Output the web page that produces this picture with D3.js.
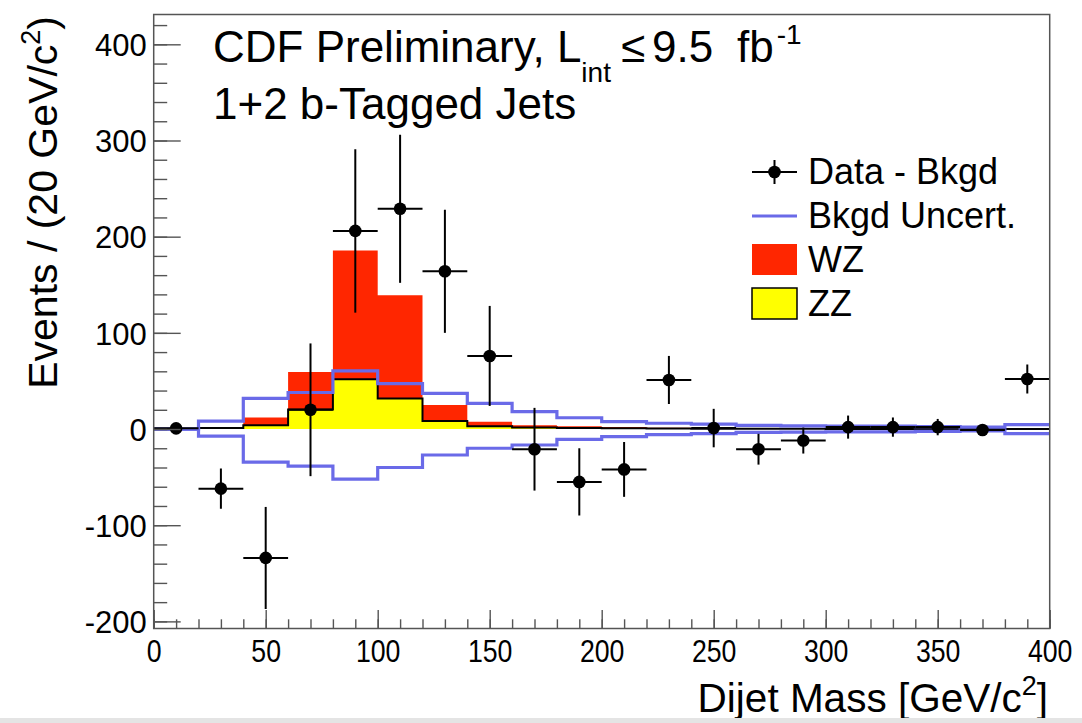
<!DOCTYPE html>
<html>
<head>
<meta charset="utf-8">
<script src="https://cdn.jsdelivr.net/npm/d3@7"></script>
<style>
  html, body { margin: 0; padding: 0; background: #fff; }
  svg { display: block; font-family: "Liberation Sans", Arial, Helvetica, sans-serif; }
</style>
</head>
<body>
<script>
// ---------- data ----------
const binLow     = [0, 20, 40, 60, 80, 100, 120, 140, 160, 180, 200, 220, 240, 260, 280, 300, 320, 340, 360, 380];
const binHigh    = [20, 40, 60, 80, 100, 120, 140, 160, 180, 200, 220, 240, 260, 280, 300, 320, 340, 360, 380, 400];
const binCenters = [10, 30, 50, 70, 90, 110, 130, 150, 170, 190, 210, 230, 250, 270, 290, 310, 330, 350, 370, 390];

const dataMinusBkgd = [0.7, -62, -134, 20, 206, 229, 164, 76, -21, -55, -42, 51, 1, -21, -12, 2, 2, 2, -1, 52];
const dataErrors    = [3, 21, 53, 69, 85, 77, 64, 52, 43, 35, 28.5, 25, 20, 16, 13.5, 12, 10, 8.5, 4, 15];

const zzValues = [0, 1, 4, 20.4, 51.8, 31.8, 8.3, 3, 1.5, 1, 0.7, 0.5, 0.3, 0.2, 0.2, 0.1, 0.1, 0.1, 0.05, 0.05];
const wzValues = [0, 0.7, 7.9, 39, 133.7, 107.2, 16.6, 4.6, 2.5, 2, 1.3, 0.8, 0.5, 0.3, 0.2, 0.2, 0.1, 0.1, 0.1, 0.05];

const bkgdUncUp   = [0, 8.3, 31.8, 38, 60.4, 47.3, 37, 26.6, 18, 11.7, 7.6, 6, 5, 3.8, 3.3, 3, 3, 2.5, 2, 4.5];
const bkgdUncDown = [0, -7.3, -34.5, -38.5, -52, -40, -27, -20, -16.6, -10.7, -8, -5.8, -4.8, -3.5, -3.3, -3, -3, -2.5, -2, -4.8];

const xMajorTicks = [0, 50, 100, 150, 200, 250, 300, 350, 400];
const xMinorTicks = [0,10,20,30,40,50,60,70,80,90,100,110,120,130,140,150,160,170,180,190,200,210,220,230,240,250,260,270,280,290,300,310,320,330,340,350,360,370,380,390,400];
const yMajorTicks = [-200, -100, 0, 100, 200, 300, 400];
const yMinorTicks = [-200,-180,-160,-140,-120,-100,-80,-60,-40,-20,0,20,40,60,80,100,120,140,160,180,200,220,240,260,280,300,320,340,360,380,400,420];

const legendLabels = ["Data - Bkgd", "Bkgd Uncert.", "WZ", "ZZ"];

// ---------- layout ----------
const W = 1082, H = 723;
const X0 = 153.7, X1 = 1049.7, Y0 = 14.5, Y1 = 628.5;
const x = d3.scaleLinear().domain([0, 400]).range([X0, X1]);
const y = d3.scaleLinear().domain([-207.4, 431]).range([Y1, Y0]);

const C_RED = "#ff2600", C_YEL = "#ffff00", C_BLUE = "#6a6ae8", C_FRAME = "#555";
const fmt = d => String(d);   // plain hyphen-minus like the reference

const svg = d3.select("body").append("svg").attr("width", W).attr("height", H);
svg.append("rect").attr("width", W).attr("height", H).attr("fill", "#fff");

const plot = svg.append("g");
svg.append("clipPath").attr("id", "clip").append("rect")
  .attr("x", X0).attr("y", Y0).attr("width", X1 - X0).attr("height", Y1 - Y0);
plot.attr("clip-path", "url(#clip)");

function stepPoints(vals) {
  const pts = [];
  vals.forEach((v, i) => { pts.push([binLow[i], v]); pts.push([binHigh[i], v]); });
  return pts;
}
const totalValues = zzValues.map((v, i) => v + wzValues[i]);

const area = d3.area().x(d => x(d[0])).y0(y(0)).y1(d => y(d[1]));
const line = d3.line().x(d => x(d[0])).y(d => y(d[1]));

// stacked fills
plot.append("path").attr("d", area(stepPoints(totalValues))).attr("fill", C_RED);
plot.append("path").attr("d", area(stepPoints(zzValues))).attr("fill", C_YEL);
plot.append("path").attr("d", line(stepPoints(zzValues)))
  .attr("fill", "none").attr("stroke", "#000").attr("stroke-width", 2);

// background uncertainty band
[bkgdUncUp, bkgdUncDown].forEach(vals => {
  plot.append("path").attr("d", line(stepPoints(vals)))
    .attr("fill", "none").attr("stroke", C_BLUE).attr("stroke-width", 3.2);
});

// data points
const pts = plot.append("g");
binCenters.forEach((c, i) => {
  const v = dataMinusBkgd[i], e = dataErrors[i];
  pts.append("line").attr("x1", x(binLow[i])).attr("x2", x(binHigh[i]))
    .attr("y1", y(v)).attr("y2", y(v)).attr("stroke", "#000").attr("stroke-width", 2);
  pts.append("line").attr("x1", x(c)).attr("x2", x(c))
    .attr("y1", y(v - e)).attr("y2", y(v + e)).attr("stroke", "#000").attr("stroke-width", 2);
  pts.append("circle").attr("cx", x(c)).attr("cy", y(v)).attr("r", 6.3).attr("fill", "#000");
});

// ---------- axes ----------
const axStyle = g => {
  g.select(".domain").remove();
  g.selectAll(".tick line").attr("stroke", C_FRAME).attr("stroke-width", 1.4);
  g.selectAll("text").attr("fill", "#000").attr("font-family", "Liberation Sans, Arial, sans-serif");
};

svg.append("g").attr("transform", `translate(${X0},0)`)
  .call(d3.axisLeft(y).tickValues(yMinorTicks).tickSizeInner(-13.5).tickSizeOuter(0).tickFormat(""))
  .call(axStyle);
const yAx = svg.append("g").attr("transform", `translate(${X0},0)`)
  .call(d3.axisLeft(y).tickValues(yMajorTicks).tickSizeInner(-27).tickSizeOuter(0).tickPadding(7).tickFormat(fmt))
  .call(axStyle);
yAx.selectAll("text").attr("font-size", 31).attr("dy", "0.36em");

svg.append("g").attr("transform", `translate(0,${Y1})`)
  .call(d3.axisBottom(x).tickValues(xMinorTicks).tickSizeInner(-9.2).tickSizeOuter(0).tickFormat(""))
  .call(axStyle);
const xAx = svg.append("g").attr("transform", `translate(0,${Y1})`)
  .call(d3.axisBottom(x).tickValues(xMajorTicks).tickSizeInner(-18.4).tickSizeOuter(0).tickPadding(11).tickFormat(fmt))
  .call(axStyle);
xAx.selectAll("text").attr("font-size", 31).attr("dy", "0.72em")
  .each(function() {
    const n = this.getComputedTextLength();
    d3.select(this).attr("textLength", n * 0.86).attr("lengthAdjust", "spacingAndGlyphs");
  });

// frame
svg.append("rect").attr("x", X0).attr("y", Y0).attr("width", X1 - X0).attr("height", Y1 - Y0)
  .attr("fill", "none").attr("stroke", C_FRAME).attr("stroke-width", 1.5);

// axis titles
const xt = svg.append("text").attr("x", 1048).attr("y", 712).attr("text-anchor", "end")
  .attr("font-size", 40.5);
xt.append("tspan").text("Dijet Mass [GeV/c");
xt.append("tspan").attr("font-size", 27).attr("dy", -17).text("2");
xt.append("tspan").attr("dy", 17).text("]");

const yt = svg.append("text").attr("transform", "translate(57,16) rotate(-90)")
  .attr("text-anchor", "end").attr("font-size", 41);
yt.append("tspan").text("Events / (20 GeV/c");
yt.append("tspan").attr("font-size", 27).attr("dy", -17).text("2");
yt.append("tspan").attr("dy", 17).text(")");

// plot labels
const t1 = svg.append("text").attr("x", 213).attr("y", 62).attr("font-size", 44);
t1.append("tspan").text("CDF Preliminary, L");
t1.append("tspan").attr("font-size", 28).attr("dy", 20).text("int");
t1.append("tspan").attr("dy", -20).attr("x", 621).text("\u2264");
t1.append("tspan").attr("x", 652).text("9.5");
t1.append("tspan").attr("x", 737).text("fb");
t1.append("tspan").attr("font-size", 28).attr("dy", -18).attr("dx", 3).text("-1");
svg.append("text").attr("x", 213).attr("y", 119).attr("font-size", 44).text("1+2 b-Tagged Jets");

// ---------- legend ----------
const lg = svg.append("g");
const lx0 = 752, lx1 = 797, ltx = 808;
const rowY = [172, 216, 259.5, 303.5];
lg.append("line").attr("x1", lx0).attr("x2", lx1).attr("y1", rowY[0]).attr("y2", rowY[0]).attr("stroke", "#000").attr("stroke-width", 2);
lg.append("line").attr("x1", (lx0 + lx1) / 2).attr("x2", (lx0 + lx1) / 2).attr("y1", rowY[0] - 12).attr("y2", rowY[0] + 12).attr("stroke", "#000").attr("stroke-width", 2);
lg.append("circle").attr("cx", (lx0 + lx1) / 2).attr("cy", rowY[0]).attr("r", 6.3).attr("fill", "#000");
lg.append("line").attr("x1", lx0).attr("x2", lx1).attr("y1", rowY[1]).attr("y2", rowY[1]).attr("stroke", C_BLUE).attr("stroke-width", 3.2);
lg.append("rect").attr("x", lx0).attr("y", rowY[2] - 15.5).attr("width", lx1 - lx0).attr("height", 31).attr("fill", C_RED);
lg.append("rect").attr("x", lx0).attr("y", rowY[3] - 15.5).attr("width", lx1 - lx0).attr("height", 31).attr("fill", C_YEL)
  .attr("stroke", "#000").attr("stroke-width", 1.5);
legendLabels.forEach((t, i) => {
  lg.append("text").attr("x", ltx).attr("y", rowY[i] + 12).attr("font-size", 36).text(t);
});

// bottom page edge
svg.append("rect").attr("x", 0).attr("y", 718).attr("width", W).attr("height", 5).attr("fill", "#e4e4e4");
</script>
</body>
</html>
